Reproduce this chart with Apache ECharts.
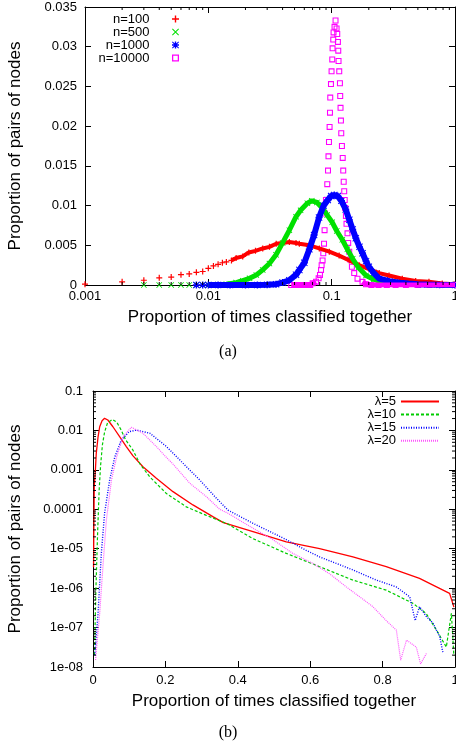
<!DOCTYPE html>
<html>
<head>
<meta charset="utf-8">
<style>
  html, body { margin: 0; padding: 0; background: #fff; }
  #chart { width: 456px; height: 746px; }
</style>
<script src="https://cdn.jsdelivr.net/npm/echarts@6/dist/echarts.min.js"></script>
</head>
<body>
<div id="chart"></div>
<script>
// (a) proportion of pairs vs proportion of times classified together (log x)
const n100X = [0.001, 0.002, 0.003, 0.004, 0.005, 0.006, 0.007, 0.008, 0.009, 0.010, 0.011, 0.012, 0.013, 0.014,
  0.0154, 0.0168, 0.019, 0.0213, 0.0241, 0.0276, 0.0313, 0.0355, 0.040, 0.0454, 0.0514, 0.0547, 0.0659, 0.0794,
  0.0957, 0.115, 0.139, 0.167, 0.201, 0.243, 0.292, 0.374, 0.48, 0.615, 0.788, 0.98]
const n100Y = [0.0001, 0.0004, 0.0006, 0.0009, 0.001, 0.0013, 0.0014, 0.0016, 0.0017, 0.0021, 0.0024, 0.0026, 0.0028, 0.0029,
  0.0031, 0.0034, 0.0036, 0.0041, 0.0043, 0.0046, 0.0048, 0.0052, 0.0053, 0.0054, 0.0053, 0.0052, 0.005, 0.0046,
  0.0042, 0.0037, 0.0031, 0.0025, 0.002, 0.0015, 0.0012, 0.0008, 0.0005, 0.0004, 0.0002, 0.0001]

const n500X = [0.003, 0.004, 0.005, 0.006, 0.007, 0.008, 0.009, 0.010, 0.011, 0.012, 0.014, 0.0168, 0.019, 0.0216,
  0.0245, 0.0276, 0.0313, 0.0354, 0.040, 0.0454, 0.0514, 0.056, 0.0635, 0.069, 0.076, 0.084, 0.092, 0.101, 0.11,
  0.122, 0.134, 0.148, 0.165, 0.19, 0.22, 0.26, 0.33, 0.45, 0.65, 1.0]
const n500Y = [0, 0, 0, 0, 0, 0, 0, 0, 0.00002, 0.00004, 0.0001, 0.0003, 0.00055, 0.00084,
  0.00126, 0.0019, 0.0027, 0.0038, 0.0053, 0.0069, 0.0086, 0.0094, 0.0103, 0.0106, 0.0104, 0.0097, 0.0088, 0.0079, 0.0068,
  0.0057, 0.0045, 0.0033, 0.0022, 0.0012, 0.0007, 0.0004, 0.0002, 0.00008, 0.00003, 0]

const n1000X = [0.008, 0.009, 0.010, 0.012, 0.015, 0.02, 0.025, 0.03, 0.0354, 0.04, 0.0454, 0.0514, 0.0547, 0.06,
  0.0659, 0.072, 0.079, 0.086, 0.093, 0.099, 0.105, 0.112, 0.12, 0.13, 0.139, 0.148, 0.157, 0.168, 0.178, 0.19,
  0.2, 0.22, 0.243, 0.27, 0.31, 0.36, 0.42, 0.5, 0.6, 0.75, 1.0]
const n1000Y = [0, 0, 0, 0, 0, 0, 0, 0.00002, 0.0001, 0.0003, 0.0006, 0.0013, 0.0019, 0.0028,
  0.0045, 0.0063, 0.0085, 0.0100, 0.0107, 0.0112, 0.01133, 0.0112, 0.0106, 0.0095, 0.0082, 0.007, 0.0059, 0.0048, 0.004, 0.003,
  0.0023, 0.0015, 0.0008, 0.0006, 0.0004, 0.0003, 0.0002, 0.0001, 0.00006, 0.00003, 0]

const n10000X = [0.047, 0.051, 0.055, 0.059, 0.063, 0.067, 0.0701, 0.0747, 0.0784, 0.0804, 0.0820, 0.0829, 0.0844,
  0.0855, 0.0867, 0.0876, 0.0883, 0.0899, 0.0921, 0.0934, 0.0942, 0.0951, 0.0962, 0.0969, 0.0974, 0.0987, 0.0998,
  0.1011, 0.1017, 0.1030, 0.1036, 0.1055, 0.1075, 0.1096, 0.1110, 0.1124, 0.1131, 0.1137, 0.1152, 0.1167, 0.1173,
  0.1180, 0.1189, 0.1196, 0.1211, 0.1229, 0.1241, 0.1252, 0.1264, 0.1276, 0.1288, 0.1305, 0.1319, 0.1344, 0.1362,
  0.1388, 0.1414, 0.1459, 0.1523, 0.162, 0.1778, 0.19, 0.21, 0.24, 0.28, 0.33, 0.4, 0.5, 0.62, 0.78, 1.0]
const n10000Y = [0, 0, 0, 0, 0, 0, 0.00021, 0.00042, 0.00084, 0.00126, 0.0019, 0.0025, 0.0031,
  0.004, 0.0052, 0.0069, 0.009, 0.0107, 0.0127, 0.0144, 0.0162, 0.018, 0.0199, 0.0217, 0.0236, 0.0253, 0.0269,
  0.0284, 0.0298, 0.0309, 0.0318, 0.0325, 0.0333, 0.0323, 0.0316, 0.0306, 0.0295, 0.0282, 0.0269, 0.0254, 0.0238,
  0.0223, 0.0207, 0.0191, 0.0175, 0.016, 0.0144, 0.013, 0.0118, 0.0107, 0.0097, 0.0087, 0.0077, 0.0065, 0.0053,
  0.0042, 0.0032, 0.0023, 0.0015, 0.0008, 0.0004, 0.0001, 0, 0, 0, 0, 0, 0, 0, 0, 0]

const xTickLabelsA = ['0.001', '0.01', '0.1', '1']
const yTickLabelsA = ['0', '0.005', '0.01', '0.015', '0.02', '0.025', '0.03', '0.035']
const xMinorA = [0.002, 0.003, 0.004, 0.005, 0.006, 0.007, 0.008, 0.009,
  0.02, 0.03, 0.04, 0.05, 0.06, 0.07, 0.08, 0.09, 0.2, 0.3, 0.4, 0.5, 0.6, 0.7, 0.8, 0.9]

// (b) log y, linear x
const lam5X = [0.0015, 0.0025, 0.0035, 0.0066, 0.009, 0.014, 0.0185, 0.025, 0.032, 0.041, 0.055, 0.074, 0.092, 0.11,
  0.138, 0.175, 0.221, 0.276, 0.331, 0.36, 0.442, 0.534, 0.626, 0.718, 0.81, 0.902, 0.949, 0.985, 0.997]
const lam5Y = [3.4e-6, 5e-5, 4e-4, 1e-3, 2.6e-3, 6.9e-3, 1.24e-2, 1.76e-2, 2.03e-2, 1.84e-2, 1.24e-2, 6.9e-3, 3.9e-3, 2.3e-3,
  1.2e-3, 6.1e-4, 2.8e-4, 1.29e-4, 6.5e-5, 4.6e-5, 2.7e-5, 1.5e-5, 1.0e-5, 6.2e-6, 3.5e-6, 1.77e-6, 1.08e-6, 7.4e-7, 3.3e-7]

const lam10X = [0.004, 0.008, 0.010, 0.013, 0.017, 0.021, 0.026, 0.032, 0.04, 0.054, 0.066, 0.078, 0.09, 0.11, 0.13,
  0.157, 0.203, 0.258, 0.313, 0.373, 0.442, 0.534, 0.626, 0.718, 0.81, 0.884, 0.92, 0.949, 0.976, 0.99, 0.997]
const lam10Y = [2e-8, 9e-7, 3.8e-6, 3e-5, 3.1e-4, 1.3e-3, 4.3e-3, 9.1e-3, 1.55e-2, 1.9e-2, 1.6e-2, 1.02e-2, 5.8e-3, 3.2e-3, 1.4e-3,
  6.6e-4, 2.5e-4, 1.15e-4, 7e-5, 4.2e-5, 1.8e-5, 7.6e-6, 3.5e-6, 1.6e-6, 8.9e-7, 4.1e-7, 2.3e-7, 8.6e-8, 3.2e-8, 2.3e-7, 1.9e-8]

const lam15X = [0.005, 0.014, 0.023, 0.032, 0.046, 0.06, 0.078, 0.1, 0.12, 0.157, 0.203, 0.249, 0.295, 0.341, 0.373,
  0.442, 0.497, 0.534, 0.589, 0.626, 0.718, 0.783, 0.838, 0.875, 0.89, 0.902, 0.921, 0.939, 0.958, 0.967]
const lam15Y = [2e-8, 2.3e-7, 7.6e-6, 7.9e-5, 5.5e-4, 2.1e-3, 5.7e-3, 9.3e-3, 1.02e-2, 8.5e-3, 3.9e-3, 1.46e-3, 5.5e-4, 1.9e-4, 9.5e-5,
  4.4e-5, 2.5e-5, 1.7e-5, 9.1e-6, 6.2e-6, 2.9e-6, 1.6e-6, 1.07e-6, 6e-7, 1.5e-7, 3.4e-7, 1.9e-7, 1.3e-7, 5.8e-8, 2.2e-8]

const lam20X = [0.007, 0.0185, 0.028, 0.037, 0.051, 0.065, 0.083, 0.106, 0.138, 0.175, 0.2, 0.221, 0.267, 0.313, 0.35,
  0.373, 0.442, 0.497, 0.552, 0.608, 0.654, 0.7, 0.737, 0.773, 0.81, 0.838, 0.85, 0.866, 0.893, 0.905, 0.921]
const lam20Y = [1.5e-8, 2.3e-7, 4.2e-6, 5.4e-5, 5.5e-4, 2.1e-3, 6.9e-3, 1.2e-2, 8.5e-3, 3.9e-3, 2.2e-3, 1.4e-3, 4.6e-4, 2.1e-4, 1.0e-4,
  7.9e-5, 3.3e-5, 1.7e-5, 7.6e-6, 4.2e-6, 2.3e-6, 1.07e-6, 6e-7, 3.4e-7, 1.5e-7, 8.6e-8, 1.5e-8, 4.8e-8, 3.2e-8, 1.2e-8, 2.2e-8]

const xTickLabelsB = ['0', '0.2', '0.4', '0.6', '0.8', '1']
const yTickLabelsB = ['1e-08', '1e-07', '1e-06', '1e-05', '0.0001', '0.001', '0.01', '0.1']
const yMinorB = []
for (let e = -8; e < -1; e++) for (let m = 2; m <= 9; m++) yMinorB.push(m * Math.pow(10, e))

// ---- styling ----
const FONT = "'Liberation Sans', Arial, Helvetica, sans-serif"
const PLUS = 'path://M4,0H6V4H10V6H6V10H4V6H0V4H4Z'
const CROSS = 'path://M0,1L1,0L5,4L9,0L10,1L6,5L10,9L9,10L5,6L1,10L0,9L4,5Z'
const STAR = 'path://M4,0H6V4H10V6H6V10H4V6H0V4H4Z M0,1L1,0L5,4L9,0L10,1L6,5L10,9L9,10L5,6L1,10L0,9L4,5Z'
const SQUARE = 'path://M0,0H10V10H0Z M1.8,1.8V8.2H8.2V1.8Z'

const seriesA = [
  { name: 'n=100', xs: n100X, ys: n100Y, color: '#ff0000', icon: PLUS, size: 6, bandFrom: 0.0154, bandMaxY: 1, width: 4 },
  { name: 'n=500', xs: n500X, ys: n500Y, color: '#00e000', icon: CROSS, size: 6, bandFrom: 0.010, bandMaxY: 1, width: 5 },
  { name: 'n=1000', xs: n1000X, ys: n1000Y, color: '#0000ff', icon: STAR, size: 7, bandFrom: 0.010, bandMaxY: 1, width: 6 },
  { name: 'n=10000', xs: n10000X, ys: n10000Y, color: '#ff00ff', icon: SQUARE, size: 6, bandFrom: 0.047, bandMaxY: 0.0005, width: 5 },
]

const seriesB = [
  { name: 'λ=5', xs: lam5X, ys: lam5Y, color: '#ff0000', type: 'solid', width: 1.3 },
  { name: 'λ=10', xs: lam10X, ys: lam10Y, color: '#00cc00', type: [3, 2], width: 1.2 },
  { name: 'λ=15', xs: lam15X, ys: lam15Y, color: '#0000ff', type: [1, 1.5], width: 1.4 },
  { name: 'λ=20', xs: lam20X, ys: lam20Y, color: '#ff55ff', type: [1, 1], width: 1.2 },
]

const pairs = (xs, ys) => xs.map((x, i) => [x, ys[i]])
const band = (s) => s.xs.map((x, i) => (x >= s.bandFrom && s.ys[i] <= s.bandMaxY ? [x, s.ys[i]] : [x, '-']))

const baseAxis = {
  axisLine: { show: true, onZero: false, lineStyle: { color: '#000', width: 1 } },
  axisTick: { show: true, inside: true, length: 6, lineStyle: { color: '#000' } },
  splitLine: { show: false },
  axisLabel: { color: '#000', fontSize: 13, fontFamily: FONT },
  nameTextStyle: { color: '#000', fontSize: 17, fontFamily: FONT },
}
const mirror = { axisLabel: { show: false } }

function minorTicks(xi, yi, values, vertical, lo, hi) {
  return {
    type: 'custom', xAxisIndex: xi, yAxisIndex: yi, silent: true, z: 10, clip: false,
    data: values.map((v) => (vertical ? [v, lo] : [lo, v])),
    renderItem: (params, api) => {
      const v = vertical ? api.value(0) : api.value(1)
      const a = api.coord(vertical ? [v, lo] : [lo, v])
      const b = api.coord(vertical ? [v, hi] : [hi, v])
      const st = { stroke: '#000', lineWidth: 1 }
      return {
        type: 'group',
        children: vertical
          ? [
              { type: 'line', shape: { x1: a[0], y1: a[1], x2: a[0], y2: a[1] - 3 }, style: st },
              { type: 'line', shape: { x1: b[0], y1: b[1], x2: b[0], y2: b[1] + 3 }, style: st },
            ]
          : [
              { type: 'line', shape: { x1: a[0], y1: a[1], x2: a[0] + 3, y2: a[1] }, style: st },
              { type: 'line', shape: { x1: b[0], y1: b[1], x2: b[0] - 3, y2: b[1] }, style: st },
            ],
      }
    },
  }
}

function legendItem(name, icon, top, right, w, h) {
  const lg = {
    orient: 'vertical', right, top, padding: 0, align: 'right', itemWidth: w, itemHeight: h,
    selectedMode: false, symbolKeepAspect: true,
    textStyle: { fontSize: 13, color: '#000', fontFamily: FONT },
    data: [icon ? { name, icon } : { name }],
  }
  // line samples only: hide the marker ECharts puts in the middle
  if (!icon) lg.itemStyle = { opacity: 0 }
  return lg
}

const series = []
seriesA.forEach((s) => {
  series.push({
    type: 'line', name: s.name, xAxisIndex: 0, yAxisIndex: 0, data: band(s), symbol: 'none',
    lineStyle: { color: s.color, width: s.width }, itemStyle: { color: s.color }, connectNulls: false,
  })
  series.push({
    type: 'scatter', name: s.name, xAxisIndex: 0, yAxisIndex: 0, data: pairs(s.xs, s.ys),
    symbol: s.icon, symbolSize: s.size, itemStyle: { color: s.color, opacity: 1 },
  })
})
seriesB.forEach((s) => {
  series.push({
    type: 'line', name: s.name, xAxisIndex: 2, yAxisIndex: 2, data: pairs(s.xs, s.ys), symbol: 'none',
    lineStyle: { color: s.color, width: s.width, type: s.type }, itemStyle: { color: s.color },
  })
})
series.push(minorTicks(0, 0, xMinorA, true, 0, 0.035))
series.push(minorTicks(2, 2, yMinorB, false, 0, 1))

const legends = []
seriesA.forEach((s, i) => legends.push(legendItem(s.name, s.icon, 12.5 + i * 13, 277, 42, 7)))
seriesB.forEach((s, i) => legends.push(legendItem(s.name, null, 395 + i * 13.1, 16, 38, 12)))

const chart = echarts.init(document.getElementById('chart'))
chart.setOption({
  animation: false,
  backgroundColor: '#fff',
  textStyle: { fontFamily: FONT },
  title: [
    { text: '(a)', left: 'center', top: 344, padding: 0,
      textStyle: { fontFamily: "'Liberation Serif', 'Times New Roman', serif", fontSize: 16, fontWeight: 'normal', color: '#000' } },
    { text: '(b)', left: 'center', top: 725, padding: 0,
      textStyle: { fontFamily: "'Liberation Serif', 'Times New Roman', serif", fontSize: 16, fontWeight: 'normal', color: '#000' } },
  ],
  legend: legends,
  grid: [
    { left: 85, top: 7, width: 370, height: 278, outerBoundsMode: 'none', containLabel: false },
    { left: 93, top: 391, width: 362, height: 276, outerBoundsMode: 'none', containLabel: false },
  ],
  xAxis: [
    { ...baseAxis, gridIndex: 0, type: 'log', logBase: 10, min: 0.001, max: 1, position: 'bottom',
      name: 'Proportion of times classified together', nameLocation: 'middle', nameGap: 24,
      axisLabel: { ...baseAxis.axisLabel, margin: 5, formatter: (v) => xTickLabelsA[Math.round(Math.log10(v)) + 3] } },
    { ...baseAxis, ...mirror, gridIndex: 0, type: 'log', logBase: 10, min: 0.001, max: 1, position: 'top' },
    { ...baseAxis, gridIndex: 1, type: 'value', min: 0, max: 1, interval: 0.2, position: 'bottom',
      name: 'Proportion of times classified together', nameLocation: 'middle', nameGap: 26,
      axisLabel: { ...baseAxis.axisLabel, margin: 7, formatter: (v) => xTickLabelsB[Math.round(v / 0.2)] } },
    { ...baseAxis, ...mirror, gridIndex: 1, type: 'value', min: 0, max: 1, interval: 0.2, position: 'top' },
  ],
  yAxis: [
    { ...baseAxis, gridIndex: 0, type: 'value', min: 0, max: 0.035, interval: 0.005, position: 'left',
      name: 'Proportion of pairs of nodes', nameLocation: 'middle', nameGap: 61,
      axisLabel: { ...baseAxis.axisLabel, margin: 8, formatter: (v) => yTickLabelsA[Math.round(v / 0.005)] } },
    { ...baseAxis, ...mirror, gridIndex: 0, type: 'value', min: 0, max: 0.035, interval: 0.005, position: 'right' },
    { ...baseAxis, gridIndex: 1, type: 'log', logBase: 10, min: 1e-8, max: 0.1, position: 'left',
      name: 'Proportion of pairs of nodes', nameLocation: 'middle', nameGap: 69,
      axisLabel: { ...baseAxis.axisLabel, margin: 10, formatter: (v) => yTickLabelsB[Math.round(Math.log10(v)) + 8] } },
    { ...baseAxis, ...mirror, gridIndex: 1, type: 'log', logBase: 10, min: 1e-8, max: 0.1, position: 'right' },
  ],
  series,
})

window.addEventListener('resize', () => {
  chart.resize()
})
</script>
</body>
</html>
